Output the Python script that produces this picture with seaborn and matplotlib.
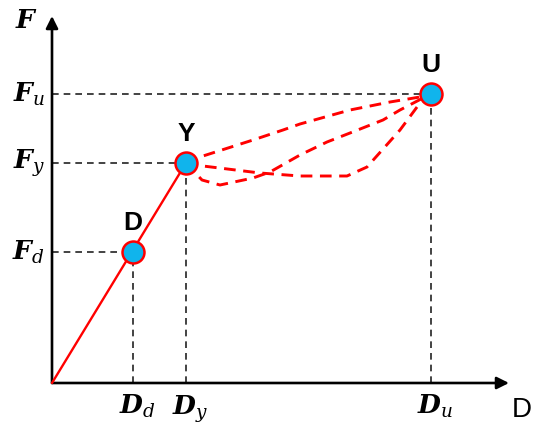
import matplotlib
matplotlib.use("Agg")
import matplotlib.pyplot as plt
import seaborn as sns
import pandas as pd

sns.set_style("white")
plt.rcParams['mathtext.fontset'] = 'custom'
plt.rcParams['mathtext.it'] = 'DejaVu Serif:italic'
plt.rcParams['mathtext.bf'] = 'DejaVu Serif:italic:bold'
plt.rcParams['mathtext.rm'] = 'DejaVu Serif'
plt.rcParams['text.color'] = 'black'

# characteristic points (displacement, force)
point_names = ['D', 'Y', 'U']
point_disp = [81, 134, 379]
point_force = [131, 220, 289]
disp_labels = [r'$\mathbf{D}_{d}$', r'$\mathbf{D}_{y}$', r'$\mathbf{D}_{u}$']
force_labels = [r'$\mathbf{F}_{d}$', r'$\mathbf{F}_{y}$', r'$\mathbf{F}_{u}$']

# elastic branch
elastic_disp = [0, 134]
elastic_force = [0, 220]

# post-yield paths Y -> U
upper_disp = [134, 151, 201, 231, 248, 298, 338, 368, 379]
upper_force = [220, 227, 243, 253, 259, 273, 281, 286, 289]
middle_disp = [134, 150, 168, 201, 218, 248, 275, 298, 331, 348, 371, 379]
middle_force = [220, 203, 198, 205, 211, 228, 241, 250, 263, 273, 285, 289]
lower_disp = [134, 151, 208, 248, 295, 315, 348, 368, 379]
lower_force = [220, 217, 210, 207, 207, 216, 253, 280, 289]

fig = plt.figure(figsize=(5.5, 4.32), dpi=100)
ax = fig.add_axes([0, 0, 1, 1])
ax.set_xlim(-52, 498)
ax.set_ylim(-49, 383)
ax.axis('off')

# dashed guide lines
for x, y in zip(point_disp, point_force):
    ax.plot([0, x], [y, y], color='#222222', ls=(0, (4, 3)), lw=1.2, zorder=1)
    ax.plot([x, x], [0, y], color='#222222', ls=(0, (4, 3)), lw=1.2, zorder=1)

# axes with arrows
ax.annotate('', xy=(457, 0), xytext=(0, 0),
            arrowprops=dict(arrowstyle='-|>', color='black', lw=1.9,
                            mutation_scale=18, shrinkA=0, shrinkB=0), zorder=3)
ax.annotate('', xy=(0, 367), xytext=(0, 0),
            arrowprops=dict(arrowstyle='-|>', color='black', lw=1.9,
                            mutation_scale=18, shrinkA=0, shrinkB=0), zorder=3)

sns.lineplot(x=elastic_disp, y=elastic_force, color='red', lw=1.7, ax=ax, zorder=4)
for xs, ys in [(upper_disp, upper_force), (middle_disp, middle_force), (lower_disp, lower_force)]:
    df = pd.DataFrame({'d': xs, 'f': ys})
    sns.lineplot(data=df, x='d', y='f', sort=False, estimator=None, color='red',
                 lw=2.1, ls=(0, (4, 2.6)), ax=ax, zorder=4)

sns.scatterplot(x=point_disp, y=point_force, s=250, color='#10B4EC',
                edgecolor='red', linewidth=1.8, ax=ax, zorder=5)

for name, x, y in zip(point_names, point_disp, point_force):
    ax.text(x, y + 17, name, ha='center', va='bottom', fontsize=19,
            fontweight='bold', family='Liberation Sans', color='black')

for lab, y in zip(force_labels, point_force):
    ax.text(-7, y, lab, ha='right', va='center', fontsize=19, color='black')
for lab, x in zip(disp_labels, point_disp):
    ax.text(x + 4, -10, lab, ha='center', va='top', fontsize=19, color='black')

ax.text(-26, 362, r'$\mathbf{F}$', ha='center', va='center', fontsize=19, color='black')
ax.text(470, -27, 'D', ha='center', va='center', fontsize=20,
        family='Liberation Sans', color='black')

fig.savefig('out.png', dpi=100)
